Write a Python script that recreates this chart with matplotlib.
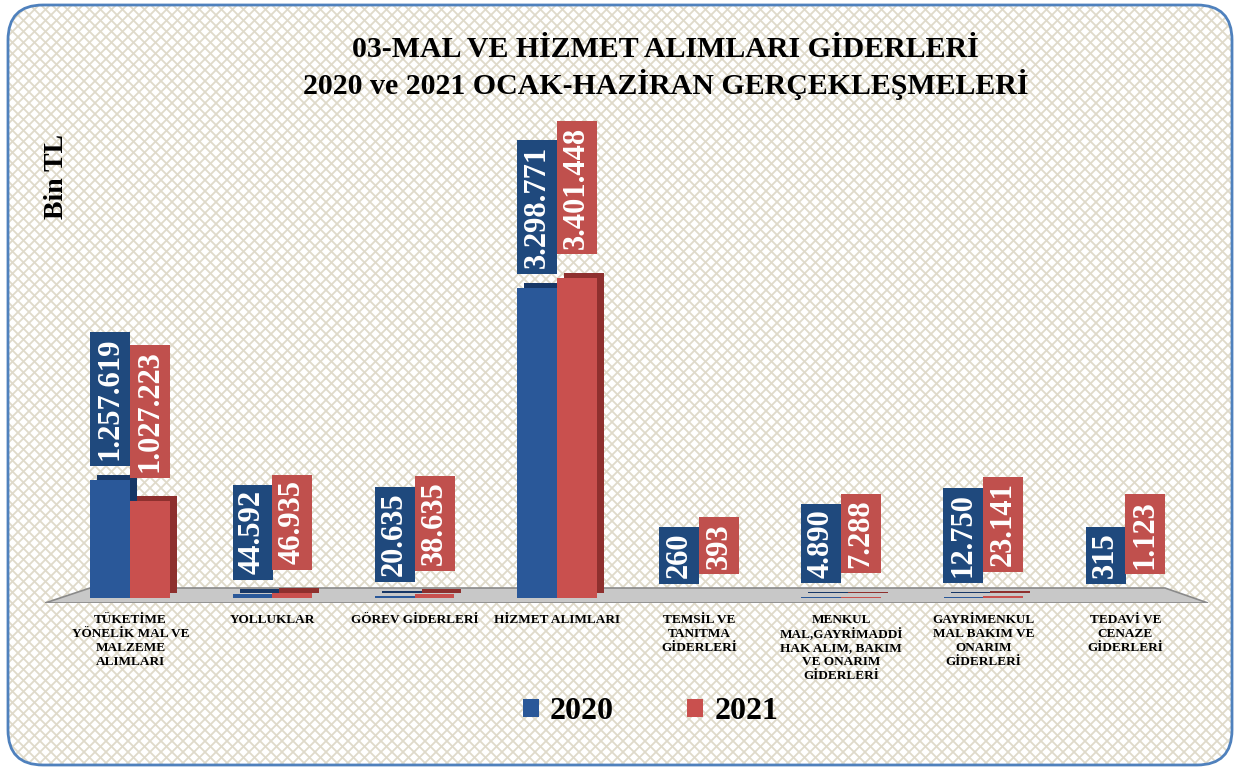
import numpy as np
import matplotlib.pyplot as plt
from matplotlib.patches import FancyBboxPatch, Polygon
from matplotlib.collections import LineCollection
from matplotlib import transforms

# data (Bin TL)
categories = ["TÜKETİME\nYÖNELİK MAL VE\nMALZEME\nALIMLARI",
              "YOLLUKLAR",
              "GÖREV GİDERLERİ",
              "HİZMET ALIMLARI",
              "TEMSİL VE\nTANITMA\nGİDERLERİ",
              "MENKUL\nMAL,GAYRİMADDİ\nHAK ALIM, BAKIM\nVE ONARIM\nGİDERLERİ",
              "GAYRİMENKUL\nMAL BAKIM VE\nONARIM\nGİDERLERİ",
              "TEDAVİ VE\nCENAZE\nGİDERLERİ"]
v2020 = [1257619, 44592, 20635, 3298771, 260, 4890, 12750, 315]
v2021 = [1027223, 46935, 38635, 3401448, 393, 7288, 23141, 1123]
years = ["2020", "2021"]

blue, red = "#2A5899", "#C9504E"
blue_dk, red_dk = "#173766", "#8E302E"
blue_box, red_box = "#1F497D", "#C0504D"

plt.rcParams['font.family'] = ['Liberation Serif', 'DejaVu Serif']
plt.rcParams['font.weight'] = 'bold'

fig = plt.figure(figsize=(12.39, 7.67), dpi=100)

# background: white rounded card with a light lattice and blue frame
bg = FancyBboxPatch((0.08, 0.02), 12.24, 7.6, boxstyle="round,pad=0,rounding_size=0.35",
                    transform=fig.dpi_scale_trans, facecolor="white", edgecolor="none",
                    zorder=-10)
fig.patches.append(bg)
step = 0.11  # inches between lattice lines
offs = np.arange(-8, 13, step)
segs = [[(o, 0), (o + 8, 8)] for o in offs] + [[(o, 0), (o - 8, 8)] for o in offs + 8]
lattice = LineCollection(segs, colors="#DFDACA", linewidths=1.3,
                         transform=fig.dpi_scale_trans, zorder=-9)
lattice.set_clip_path(bg)
fig.add_artist(lattice)
frame = FancyBboxPatch((0.08, 0.02), 12.24, 7.6, boxstyle="round,pad=0,rounding_size=0.35",
                       transform=fig.dpi_scale_trans, facecolor="none", edgecolor="#4F81BD",
                       linewidth=2, zorder=-8)
fig.patches.append(frame)

ax = fig.add_axes([45/1239, 1-603/767, 1180/1239, 483/767])
ax.patch.set_alpha(0)
for s in ax.spines.values():
    s.set_visible(False)
ax.set_xlim(-0.6, 7.7)
ax.set_ylim(-55000, 5080000)
ax.set_yticks([])

# floor
floor = Polygon([(0, 0), (45/1180, 15/483), (1120/1180, 15/483), (1163/1180, 0)],
                closed=True, transform=ax.transAxes, facecolor="#C8C8C8",
                edgecolor="#8A8A8A", linewidth=1.2, zorder=1)
ax.add_patch(floor)

x = np.arange(len(categories))
w = 0.28
depth = transforms.offset_copy(ax.transData, fig=fig, x=7, y=5, units='dots')
ax.bar(x - w/2, v2020, w, color=blue_dk, transform=depth, zorder=2)
b1 = ax.bar(x - w/2, v2020, w, color=blue, zorder=3, label=years[0])
ax.bar(x + w/2, v2021, w, color=red_dk, transform=depth, zorder=2)
b2 = ax.bar(x + w/2, v2021, w, color=red, zorder=3, label=years[1])


def fmt(v):
    return f"{v:,}".replace(",", ".")


for xi, v in zip(x, v2020):
    ax.annotate(fmt(v), (xi - w/2, v), xytext=(0, 14), textcoords="offset points",
                rotation=90, ha="center", va="bottom", color="white", fontsize=22,
                bbox=dict(boxstyle="square,pad=0.18", facecolor=blue_box, edgecolor="none"),
                zorder=5)
for xi, v in zip(x, v2021):
    ax.annotate(fmt(v), (xi + w/2, v), xytext=(0, 21), textcoords="offset points",
                rotation=90, ha="center", va="bottom", color="white", fontsize=22,
                bbox=dict(boxstyle="square,pad=0.18", facecolor=red_box, edgecolor="none"),
                zorder=5)

ax.set_xticks(x)
ax.set_xticklabels(categories, fontsize=9.5, linespacing=1.2)
ax.tick_params(axis="x", length=0, pad=8)

fig.text(0.537, 0.911, "03-MAL VE HİZMET ALIMLARI GİDERLERİ\n2020 ve 2021 OCAK-HAZİRAN GERÇEKLEŞMELERİ",
         ha="center", va="center", fontsize=21.5, linespacing=1.25)
fig.text(0.046, 0.77, "Bin TL", rotation=90, ha="center", va="center", fontsize=20)

fig.legend(handles=[b1, b2], labels=years, loc="center", bbox_to_anchor=(0.525, 0.072),
           ncol=2, frameon=False, prop={"size": 23, "weight": "bold"},
           handlelength=0.5, handleheight=0.5, handletextpad=0.35, columnspacing=2.3)

fig.savefig("out.png", dpi=100)
